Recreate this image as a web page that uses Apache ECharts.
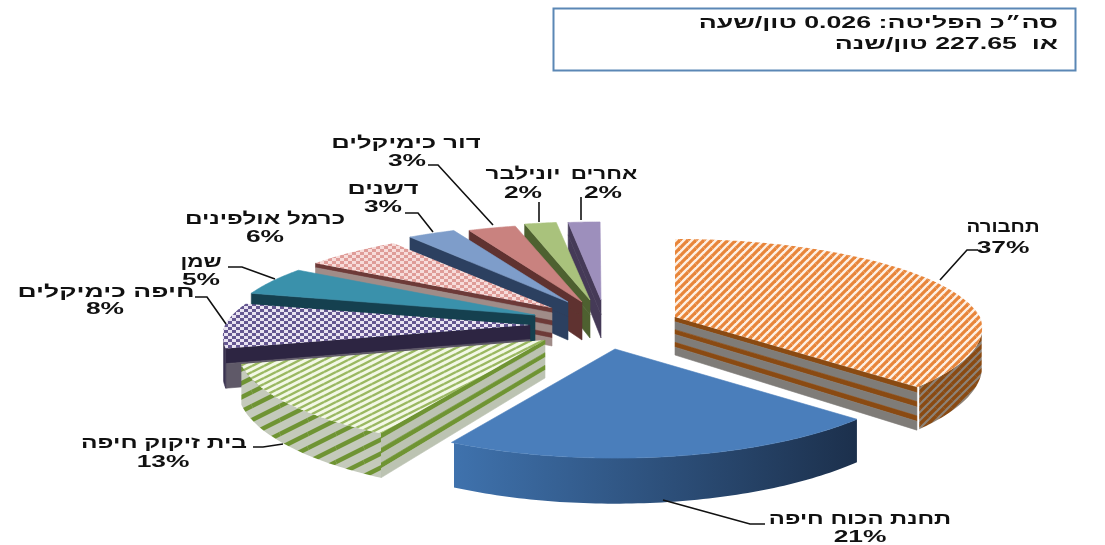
<!DOCTYPE html>
<html lang="he">
<head>
<meta charset="utf-8">
<style>html,body{margin:0;padding:0;background:#fff}#c{width:1105px;height:545px}</style>
<script src="https://cdn.jsdelivr.net/npm/echarts@6/dist/echarts.min.js"></script>
</head>
<body>
<div id="c"></div>
<script>
// ---- data ----
const categories = ['תחבורה','תחנת הכוח חיפה','בית זיקוק חיפה','חיפה כימיקלים','שמן','כרמל אולפינים','דשנים','דור כימיקלים','יונילבר','אחרים'];
const values = [37,21,13,8,5,6,3,3,2,2];
const titleLines = ['סה״כ הפליטה: 0.026 טון/שעה','או  227.65 טון/שנה'];

// ---- layout / style ----
const R = 305, A = 91, P = 0.166, T = 38;
const centre = [602,318];
const explode = [[73,-1],[13,31],[-57,22],[-72,7],[-67,-3],[-50,-10],[-34,-16],[-20,-16],[-12,-18],[-1,-18]];
const drawOrder = [8,9,7,6,5,4,3,2,1,0];          // rank per slice
const labelPos = [[1003,227,1003,248],[860,519,860,537],[164,443,163,462],[106,292,105,309],[201,262,201,280],[265,219,265,237],[383,189,383,207],[406,143,407,161],[523,174,523,193],[604,174,603,193]];
const labelScale = [1.2,1.4,1.44,1.56,1.32,1.43,1.48,1.51,1.42,1.32];
const leaders = [
 [[978,250],[967,250],[940,280]],
 [[663,500],[750,524],[765,524]],
 [[283,444],[263,447],[253,447]],
 [[195,297],[207,297],[226,324]],
 [[228,267],[242,267],[275,279]],
 [[405,213],[418,213],[433,232]],
 [[428,165],[438,165],[493,225]],
 [[539,202],[539,222]],
 [[581,197],[581,220]]
];
const FONT = 'bold 17px "Liberation Sans"', PCT_SX = 1.55;
const TITLE_FONT = 'bold 16px "Liberation Sans"', TITLE_SX = 1.67;

function tile(w,h,draw){const c=document.createElement('canvas');c.width=w;c.height=h;draw(c.getContext('2d'),w,h);return {image:c,repeat:'repeat'};}
function stripes(w,h,bg,fg,lw){return tile(w,h,(g)=>{g.fillStyle=bg;g.fillRect(0,0,w,h);g.strokeStyle=fg;g.lineWidth=lw;
  for(let i=-1;i<=1;i++)for(let j=-1;j<=1;j++){g.beginPath();g.moveTo(i*w,h+j*h);g.lineTo(w+i*w,j*h);g.stroke();}});}
function checks(w,h,bg,fg){return tile(w,h,(g)=>{g.fillStyle=bg;g.fillRect(0,0,w,h);g.fillStyle=fg;
  g.fillRect(0,0,w/2,h/2);g.fillRect(w/2,h/2,w/2,h/2);});}
const grad=(a,b)=>({type:'linear',x:0,y:0,x2:1,y2:0,colorStops:[{offset:0,color:a},{offset:1,color:b}]});

const tops = [
 stripes(8,8,'#fdf0e4','#e8853a',3.2),
 '#4a7ebb',
 stripes(12,6,'#f3f8e6','#9ab861',2.4),
 checks(8,6,'#e9e3f1','#655791'),
 '#3a91ab',
 checks(8,6,'#f7dcda','#df9c98'),
 '#7e9dca',
 '#c9827f',
 '#a9c27c',
 '#9d8fbc'
];
const arcWalls = [
 stripes(8,8,'#8d8378','#8a4a12',3.4),
 grad('#3f72ad','#1c304c'),
 stripes(28,14,'#c4cabb','#6f9433',4.5),
 '#3a3350',
 '#15404f','#7a4a48','#2c4060','#5f3230','#4e6130','#453a57'
];
const radialBands = [
 [['#8a4a12','#7f7c78'],3],
 null,
 [['#6f9433','#bcc3b2'],3],
 [['#2d2542','#5f5968'],1],
 [['#15404f','#15404f'],1],
 [['#6d3a38','#a08c88'],3],
 [['#2c4060','#2c4060'],1],
 [['#5f3230','#5f3230'],1],
 [['#4e6130','#4e6130'],1],
 [['#453a57','#453a57'],1]
];

// ---- projection ----
function pt(apex,deg){const t=deg*Math.PI/180,u=Math.sin(t),v=-Math.cos(t),s=1/(1-P*v);
  const sx=v>0?Math.pow(s,0.7):s;
  return [apex[0]+R*u*sx,apex[1]+A*v*s,s];}
const total=values.reduce((a,b)=>a+b,0);
const spans=[];values.reduce((acc,v)=>{spans.push([acc/total*360,(acc+v)/total*360]);return acc+v;},0);
const silo=Math.acos(-P)*180/Math.PI;

function renderSlice(params){
  const i=params.dataIndex,[a0,a1]=spans[i];
  const apex=[centre[0]+explode[i][0],centre[1]+explode[i][1]];
  const kids=[];const base=drawOrder[i]*10+10;
  const poly=(points,fill,z)=>kids.push({type:'polygon',z2:base+z,shape:{points},style:typeof fill==='string'?{fill,stroke:fill,lineWidth:0.6}:{fill,stroke:null}});
  // radial faces
  [[a0,-1],[a1,1]].forEach(([ang,sign])=>{
    const t=ang*Math.PI/180;const nv=sign*Math.sin(t);
    if(nv<=0.001||!radialBands[i])return;
    const c=pt(apex,ang),[cols,n]=radialBands[i];
    const H0=T,H1=T*c[2];
    for(let k=0;k<n;k++){
      const seg=[[k/n,(k+0.38)/n,cols[0]],[(k+0.38)/n,(k+1)/n,cols[1]]];
      seg.forEach(([f0,f1,col])=>poly([[apex[0],apex[1]+H0*f0],[c[0],c[1]+H1*f0],[c[0],c[1]+H1*f1],[apex[0],apex[1]+H0*f1]],col,1));
    }
  });
  // outer wall
  const w0=Math.max(a0,silo),w1=Math.min(a1,360-silo);
  if(w1>w0){const up=[],dn=[];
    for(let d=w0;d<=w1+0.001;d+=Math.min(1,(w1-w0))){const p=pt(apex,d);up.push([p[0],p[1]]);dn.unshift([p[0],p[1]+T*p[2]]);}
    poly(up.concat(dn),arcWalls[i],2);
  }
  // top face
  const top=[[apex[0],apex[1]]];
  for(let d=a0;d<=a1+0.001;d+=0.5){const p=pt(apex,d);top.push([p[0],p[1]]);}
  poly(top,tops[i],3);
  return {type:'group',children:kids};
}

// ---- text and leaders ----
const graphics=[{type:'rect',z:5,shape:{x:553.5,y:8.5,width:522,height:62},style:{fill:'#fff',stroke:'#5b87b5',lineWidth:2}}];
titleLines.forEach((s,k)=>graphics.push({type:'text',z:6,x:1058,y:24+k*21,scaleX:TITLE_SX,style:{text:s,font:TITLE_FONT,fill:'#111',align:'right',verticalAlign:'middle'}}));
categories.forEach((s,i)=>{
  const p=labelPos[i];
  graphics.push({type:'text',z:6,x:p[0],y:p[1],scaleX:labelScale[i],style:{text:s,font:FONT,fill:'#111',align:'center',verticalAlign:'middle'}});
  graphics.push({type:'text',z:6,x:p[2],y:p[3],scaleX:PCT_SX,style:{text:values[i]+'%',font:FONT,fill:'#111',align:'center',verticalAlign:'middle'}});
});
leaders.forEach(pts=>graphics.push({type:'polyline',z:6,shape:{points:pts},style:{stroke:'#111',lineWidth:1.6,fill:null}}));

const chart=echarts.init(document.getElementById('c'),null,{renderer:'canvas'});
chart.setOption({
  animation:false,
  backgroundColor:'#fff',
  graphic:graphics,
  series:[{type:'custom',coordinateSystem:'none',silent:true,renderItem:renderSlice,data:values}]
});
</script>
</body>
</html>
